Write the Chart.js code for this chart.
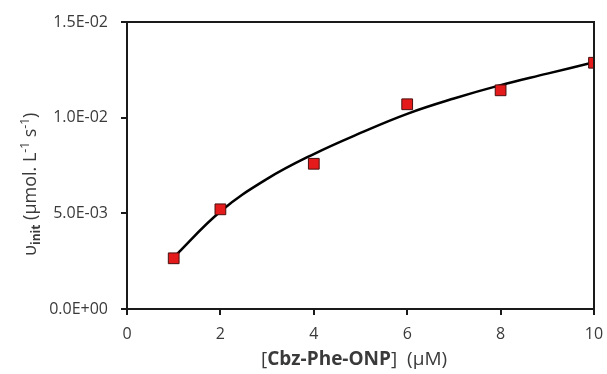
<!DOCTYPE html>
<html>
<head>
<meta charset="utf-8">
<script src="https://cdn.jsdelivr.net/npm/chart.js@4/dist/chart.umd.min.js"></script>
<style>
html,body{margin:0;padding:0;background:#fff;}
#wrap{width:607px;height:374px;position:relative;}
</style>
</head>
<body>
<div id="wrap"><canvas id="c"></canvas></div>
<script>
// Measured data (substrate concentration, µM) and initial rates
const substrateConc = [1, 2, 4, 6, 8, 10];
const initialRate = [0.00265, 0.00521, 0.00759, 0.0107, 0.01143, 0.01287];
// Fitted curve
const fitConc = [1, 2, 3, 4, 5, 6, 7, 8, 9, 10];
const fitRate = [0.0027, 0.0051, 0.0068, 0.0081, 0.0092, 0.0102, 0.0110, 0.0117, 0.0123, 0.0129];
const xTicks = [0, 2, 4, 6, 8, 10];
const yTicks = [0, 0.005, 0.01, 0.015];

const FONT = '"Open Sans", Lato, sans-serif';
const TXT = '#3a3a3a';

const frame = {
  id: 'frame',
  afterDraw(chart) {
    const {ctx, chartArea: a} = chart;
    ctx.save();
    ctx.strokeStyle = '#1a1a1a';
    ctx.lineWidth = 2;
    ctx.beginPath();
    ctx.moveTo(a.left, a.top); ctx.lineTo(a.right, a.top); ctx.lineTo(a.right, a.bottom);
    ctx.stroke();
    ctx.fillStyle = TXT;
    ctx.textBaseline = 'alphabetic';
    // X title
    const parts = [
      ['[', 'normal', 19], ['Cbz-Phe-ONP', 'bold', 19], [']  (µM)', 'normal', 19]
    ];
    let x = 261;
    for (const [t, w, s] of parts) {
      ctx.font = w + ' ' + s + 'px ' + FONT;
      ctx.fillText(t, x, 365);
      x += ctx.measureText(t).width;
    }
    // Y title (rotated)
    ctx.translate(36, 256);
    ctx.rotate(-Math.PI / 2);
    const yparts = [
      ['υ', 18, 0], ['init', 12, 4], [' (µmol. L', 18, 0], ['-1', 12, -7], [' s', 18, 0], ['-1', 12, -7], [')', 18, 0]
    ];
    let p = 0;
    for (const [t, s, dy] of yparts) {
      ctx.font = (s === 12 && dy > 0 ? 'bold ' : 'normal ') + s + 'px ' + FONT;
      ctx.fillText(t, p, dy);
      p += ctx.measureText(t).width;
    }
    ctx.restore();
  }
};

new Chart(document.getElementById('c'), {
  type: 'scatter',
  data: {
    datasets: [
      {
        label: 'fit',
        data: fitConc.map((c, i) => ({x: c, y: fitRate[i]})),
        showLine: true,
        tension: 0.4,
        borderColor: '#000',
        borderWidth: 2.5,
        pointRadius: 0,
        order: 2
      },
      {
        label: 'data',
        data: substrateConc.map((c, i) => ({x: c, y: initialRate[i]})),
        pointStyle: 'rect',
        pointRadius: 7.6,
        backgroundColor: '#e51a1a',
        borderColor: '#4a1010',
        borderWidth: 1,
        order: 1
      }
    ]
  },
  options: {
    responsive: true,
    maintainAspectRatio: false,
    animation: false,
    layout: {padding: {left: 0, right: 13, top: 22, bottom: 0}},
    plugins: {legend: {display: false}, tooltip: {enabled: false}},
    scales: {
      x: {
        type: 'linear', min: 0, max: 10,
        afterFit(s) { s.height = 65; s.paddingRight = 0; s.paddingLeft = 0; },
        afterBuildTicks(s) { s.ticks = xTicks.map(v => ({value: v})); },
        border: {color: '#1a1a1a', width: 2},
        grid: {drawOnChartArea: false, tickLength: 6, color: '#1a1a1a', lineWidth: 2},
        ticks: {color: TXT, font: {family: FONT, size: 16}, padding: 10, maxRotation: 0}
      },
      y: {
        min: 0, max: 0.015,
        afterFit(s) { s.width = 127; s.paddingTop = 0; s.paddingBottom = 0; },
        afterBuildTicks(s) { s.ticks = yTicks.map(v => ({value: v})); },
        border: {color: '#1a1a1a', width: 2},
        grid: {drawOnChartArea: false, tickLength: 6, color: '#1a1a1a', lineWidth: 2},
        ticks: {
          color: TXT, font: {family: FONT, size: 16}, padding: 13,
          callback: v => v.toExponential(1).toUpperCase().replace(/E([+-])(\d)$/, 'E$10$2')
        }
      }
    }
  },
  plugins: [frame]
});
</script>
</body>
</html>
